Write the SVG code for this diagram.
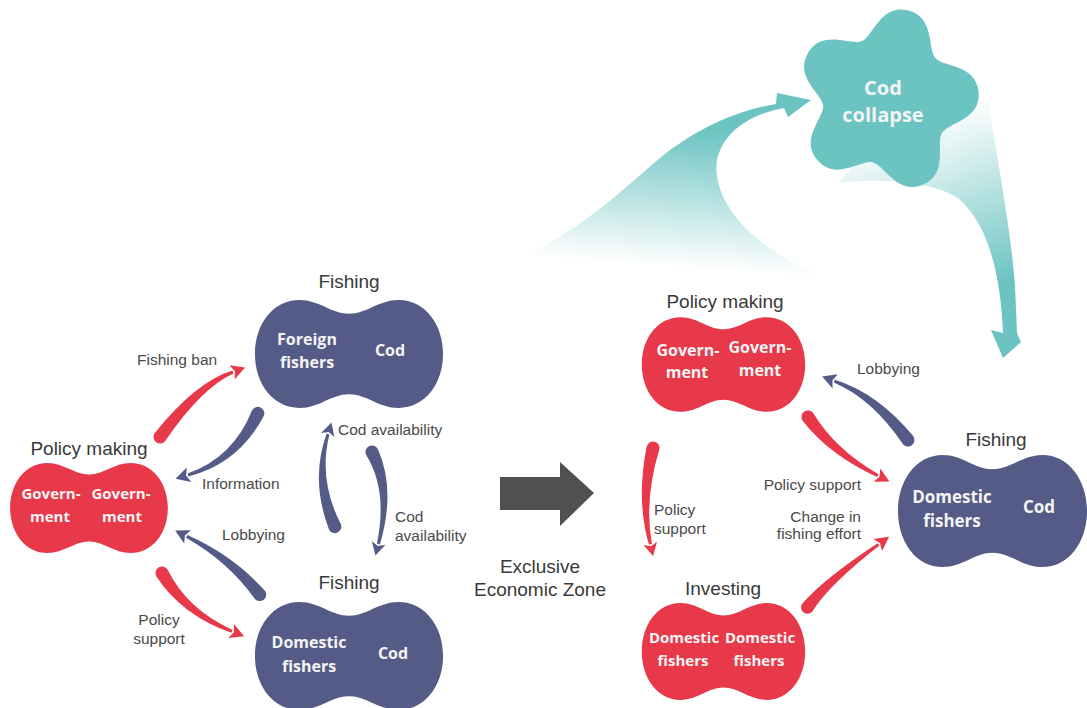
<svg xmlns="http://www.w3.org/2000/svg" width="1087" height="708" viewBox="0 0 1087 708">
<defs>
<style>
.navy{fill:#545b87}
.red{fill:#e8394b}
.teal{fill:#6cc4c2}
.hdr{font-family:"Liberation Sans",Arial,sans-serif;font-size:19px;fill:#3a3a3a;text-anchor:middle}
.lbl{font-family:"Liberation Sans",Arial,sans-serif;font-size:15.5px;fill:#4a4a4a}
.end{text-anchor:end}
.mid{text-anchor:middle}
.in{font-family:"Open Sans","Liberation Sans",sans-serif;font-weight:700;fill:#f4f4f4;text-anchor:middle}
</style>
<path id="peanut" d="M0,-41 C18,-41 30,-55 50,-55 C77,-55 95,-30 95,0 C95,30 77,55 50,55 C30,55 18,41 0,41 C-18,41 -30,55 -50,55 C-77,55 -95,30 -95,0 C-95,-30 -77,-55 -50,-55 C-30,-55 -18,-41 0,-41Z"/>
<linearGradient id="gL" gradientUnits="userSpaceOnUse" x1="700" y1="130" x2="690" y2="268">
<stop offset="0" stop-color="#6cc4c2"/><stop offset="1" stop-color="#6cc4c2" stop-opacity="0"/>
</linearGradient>
<linearGradient id="gR" gradientUnits="userSpaceOnUse" x1="950" y1="110" x2="1010" y2="280">
<stop offset="0" stop-color="#6cc4c2" stop-opacity="0"/><stop offset="1" stop-color="#6cc4c2"/>
</linearGradient>
</defs>
<rect width="1087" height="708" fill="#ffffff"/>

<g id="connectors">
  <path id="collapse-left" fill="url(#gL)" d="M513,261 C580,232 622,190 660,158 C692,132 732,111 776,104 L777,93 L811,100 L788,117 L784,108 C752,114 724,130 717,160 C712,196 742,242 818,274 C720,272 600,266 513,261Z"/>
  <path id="collapse-right" fill="url(#gR)" d="M978,25 C988,120 1008,200 1015,285 L1017,333 L1021,342 L1003,358 L991,330 L1003,333 C1001,280 990,225 958,198 C930,180 875,178 838,183 L978,25Z"/>
  <polygon id="eez-arrow" fill="#505050" points="500,477 560,477 560,462 594,493 560,526 560,510 500,510"/>

  <g class="red">
    <path d="M165.2,440.9 Q201.7,387.5 233.5,373.4 L232.5,370.6 Q196.3,381.5 154.8,433.1 A6.5,6.5 0 0 0 165.2,440.9Z"/>
    <polygon points="245.2,367.5 234.7,379.3 234.9,371.3 229.5,365.3"/>
    <path d="M156.3,576.2 Q181.4,615.1 231.4,632.8 L232.6,630 Q186.6,608.9 167.7,569.8 A6.5,6.5 0 0 0 156.3,576.2Z"/>
    <polygon points="244.1,636.3 228.3,638 233.9,632.2 233.9,624"/>
    <path d="M802.6,420.7 Q829.4,455.1 877.1,476.9 L878.5,474.3 Q834.6,448.9 813.4,413.3 A6.5,6.5 0 0 0 802.6,420.7Z"/>
    <polygon points="889.4,481.6 873.5,481.8 879.6,476.5 880.3,468.4"/>
    <path d="M812.2,611.8 Q828.7,585 879.4,545.6 L877.6,543.2 Q823.3,579 801.8,604.2 A6.5,6.5 0 0 0 812.2,611.8Z"/>
    <polygon points="889.1,536.8 882.1,551.1 880.1,543.2 873.3,538.9"/>
    <path d="M646.7,446.4 Q636,499.9 648.9,544.6 L651.9,544 Q644,500.1 659.3,449.6 A6.5,6.5 0 0 0 646.7,446.4Z"/>
    <polygon points="653.1,556 643.4,544.9 650.9,546.2 657,541.7"/>
  </g>
  <g class="navy">
    <path d="M252.1,410.3 Q233.3,457.5 187.6,473.6 L188.4,476.4 Q238.7,463.5 263.9,415.7 A6.5,6.5 0 0 0 252.1,410.3Z"/>
    <polygon points="175.5,478.8 186.8,467.5 186.1,475.6 191.2,481.9"/>
    <path d="M265.1,591 Q233.8,555.8 187.4,535.1 L186,537.7 Q228.8,562 254.9,599 A6.5,6.5 0 0 0 265.1,591Z"/>
    <polygon points="175.1,530.5 191,530.2 184.9,535.5 184.2,543.6"/>
    <path d="M340.9,524.3 Q318,479.7 329.4,434.4 L326.6,433.6 Q310,480.3 329.1,529.7 A6.5,6.5 0 0 0 340.9,524.3Z"/>
    <polygon points="331.5,422.5 334.4,437 328.6,432.1 321,433"/>
    <path d="M366.2,455 Q388,490.3 376.9,543.6 L379.9,544.4 Q396,489.7 377.8,449 A6.5,6.5 0 0 0 366.2,455Z"/>
    <polygon points="375.5,555.6 371.8,541.3 377.9,545.9 385.4,544.7"/>
    <path d="M913.2,436.1 Q877.4,392.8 834.8,379.7 L833.8,382.5 Q872.4,399 902.8,443.9 A6.5,6.5 0 0 0 913.2,436.1Z"/>
    <polygon points="822.1,376.6 837.8,374.3 832.4,380.4 832.6,388.5"/>
  </g>
</g>

<g id="cod-collapse">
  <path class="teal" transform="translate(887,100) rotate(-77)" d="M92,0 C92,28 58.9,27.9 51.8,37.6 C44.7,47.3 55,78.8 28.4,87.5 C1.8,96.2 -8.4,64.6 -19.8,60.9 C-31.2,57.2 -57.9,76.8 -74.4,54.1 C-90.9,31.4 -64,12 -64,0 C-64,-12 -90.9,-31.4 -74.4,-54.1 C-57.9,-76.8 -31.2,-57.2 -19.8,-60.9 C-8.4,-64.6 1.8,-96.2 28.4,-87.5 C55,-78.8 44.7,-47.3 51.8,-37.6 C58.9,-27.9 92,-28 92,0Z"/>
  <text class="in" font-size="20" x="883" y="95">Cod</text>
  <text class="in" font-size="20" x="883" y="122">collapse</text>
</g>

<g id="foreign-fishing">
  <text class="hdr" x="349" y="288">Fishing</text>
  <use href="#peanut" class="navy" transform="translate(349,354) scale(0.99,0.98)"/>
  <text class="in" font-size="16" x="307" y="345">Foreign</text>
  <text class="in" font-size="16" x="307" y="368">fishers</text>
  <text class="in" font-size="16" x="390" y="356">Cod</text>
</g>

<g id="domestic-fishing-left">
  <text class="hdr" x="349" y="589">Fishing</text>
  <use href="#peanut" class="navy" transform="translate(349,656) scale(0.99,0.98)"/>
  <text class="in" font-size="16" x="309" y="648">Domestic</text>
  <text class="in" font-size="16" x="309" y="672">fishers</text>
  <text class="in" font-size="16" x="393" y="659">Cod</text>
</g>

<g id="policy-left">
  <text class="hdr" x="89" y="455">Policy making</text>
  <use href="#peanut" class="red" transform="translate(89,508) scale(0.83,0.82)"/>
  <text class="in" font-size="15" x="51" y="499">Govern-</text>
  <text class="in" font-size="15" x="50" y="522">ment</text>
  <text class="in" font-size="15" x="121" y="499">Govern-</text>
  <text class="in" font-size="15" x="122" y="522">ment</text>
</g>

<g id="policy-right">
  <text class="hdr" x="725" y="308">Policy making</text>
  <use href="#peanut" class="red" transform="translate(723.5,364.5) scale(0.86,0.86)"/>
  <text class="in" font-size="16" x="688" y="356">Govern-</text>
  <text class="in" font-size="16" x="687" y="378">ment</text>
  <text class="in" font-size="16" x="760" y="353">Govern-</text>
  <text class="in" font-size="16" x="760" y="376">ment</text>
</g>

<g id="investing">
  <text class="hdr" x="723" y="595">Investing</text>
  <use href="#peanut" class="red" transform="translate(723.5,651.5) scale(0.86,0.88)"/>
  <text class="in" font-size="15" x="684" y="643">Domestic</text>
  <text class="in" font-size="15" x="683" y="666">fishers</text>
  <text class="in" font-size="15" x="760" y="643">Domestic</text>
  <text class="in" font-size="15" x="759" y="666">fishers</text>
</g>

<g id="domestic-fishing-right">
  <text class="hdr" x="996" y="446">Fishing</text>
  <use href="#peanut" class="navy" transform="translate(992.5,511) scale(0.995,1.02)"/>
  <text class="in" font-size="17" x="952" y="503">Domestic</text>
  <text class="in" font-size="17" x="952" y="527">fishers</text>
  <text class="in" font-size="17" x="1039" y="513">Cod</text>
</g>

<g id="labels">
  <text class="lbl" x="137" y="365">Fishing ban</text>
  <text class="lbl" x="202" y="489">Information</text>
  <text class="lbl" x="222" y="540">Lobbying</text>
  <text class="lbl mid" x="159" y="625">Policy</text>
  <text class="lbl mid" x="159" y="644">support</text>
  <text class="lbl" x="338" y="435">Cod availability</text>
  <text class="lbl" x="395" y="522">Cod</text>
  <text class="lbl" x="395" y="541">availability</text>
  <text class="lbl" x="857" y="374">Lobbying</text>
  <text class="lbl end" x="861" y="490">Policy support</text>
  <text class="lbl end" x="861" y="522">Change in</text>
  <text class="lbl end" x="861" y="539">fishing effort</text>
  <text class="lbl" x="654" y="515">Policy</text>
  <text class="lbl" x="654" y="534">support</text>
  <text class="hdr" font-size="18" x="540" y="573" fill="#555">Exclusive</text>
  <text class="hdr" font-size="18" x="540" y="596" fill="#555">Economic Zone</text>
</g>
</svg>
